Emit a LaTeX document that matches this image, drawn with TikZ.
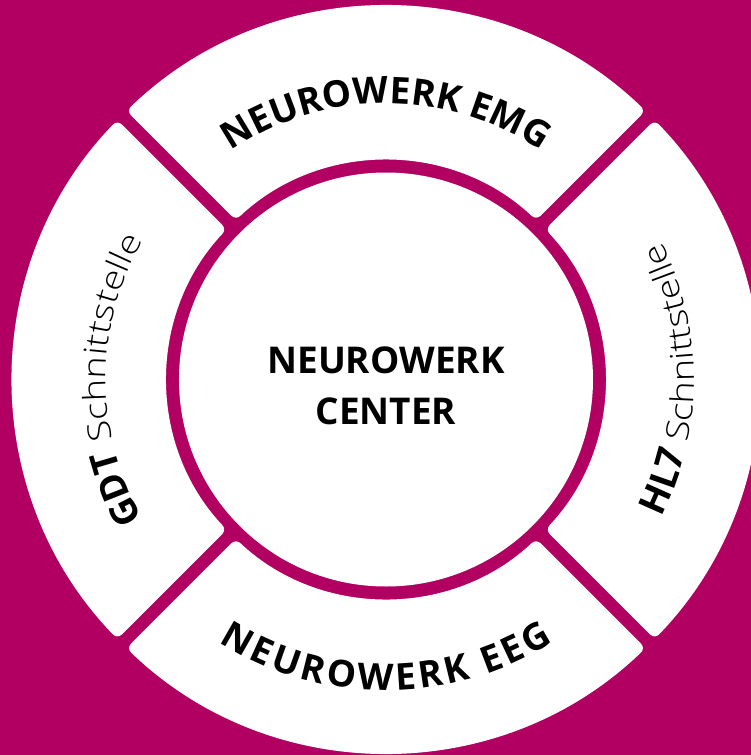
\documentclass[tikz,border=0pt]{standalone}
\usepackage{fontspec}
\setmainfont{Open Sans}
\newfontfamily\lightfont[FakeStretch=1.2]{Open Sans Light}
\usetikzlibrary{decorations.text,positioning}
\definecolor{nwmagenta}{RGB}{178,0,98}

\begin{document}
\begin{tikzpicture}[x=0.02cm, y=0.02cm, semithick]
\tikzstyle{segment}=[fill=white, rounded corners=3.5pt]
\tikzstyle{ringtext}=[decorate, decoration={text along path, text align=center, text color=black}]
\tikzstyle{center label}=[align=center, font=\bfseries\fontsize{21}{29}\selectfont, text=black]
\def\boldtxt{\bfseries\fontsize{21}{25}\selectfont}
\def\lighttxt{\lightfont\fontsize{18}{22}\selectfont}

\fill[nwmagenta] (-386,-375.5) rectangle (365,379.5);
\useasboundingbox (-386,-375.5) rectangle (365,379.5);
\clip (-386,-375.5) rectangle (365,379.5);
% four white segments, gaps at 45 degrees
\foreach \c in {0,90,180,270}
  \fill[segment] ({\c+44}:373.5) arc[start angle=\c+44, end angle=\c-44, radius=373.5]
    -- ({\c-43.3}:219) arc[start angle=\c-43.3, end angle=\c+43.3, radius=219] -- cycle;
\fill[white] (0,0) circle[radius=207];
\node[center label] (center) at (0,-6.5) {NEUROWERK\\CENTER};
\path[ringtext, decoration={text={|\boldtxt|NEUROWERK EMG}}]
  (180:276) arc[start angle=180, end angle=0, radius=276];
\path[ringtext, decoration={text={|\boldtxt|NEUROWERK EEG}, text align=fit to path}]
  (237.5:311) arc[start angle=237.5, end angle=302.5, radius=311];
\path[ringtext, decoration={text={|\boldtxt|GDT |\lighttxt|Schnittstelle}}]
  (270:280) arc[start angle=270, end angle=90, radius=280];
\path[ringtext, decoration={text={|\boldtxt|HL7 |\lighttxt|Schnittstelle}}]
  (-90:308) arc[start angle=-90, end angle=90, radius=308];
\end{tikzpicture}
\end{document}
